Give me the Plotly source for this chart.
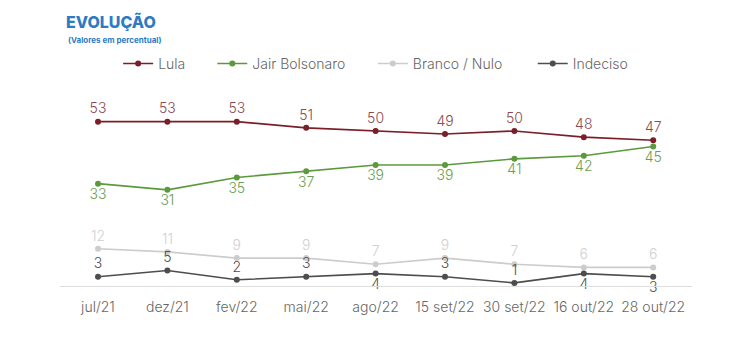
import plotly.graph_objects as go

categories = ["jul/21", "dez/21", "fev/22", "mai/22", "ago/22", "15 set/22", "30 set/22", "16 out/22", "28 out/22"]
lula = [53, 53, 53, 51, 50, 49, 50, 48, 47]
bolsonaro = [33, 31, 35, 37, 39, 39, 41, 42, 45]
branco = [12, 11, 9, 9, 7, 9, 7, 6, 6]
indeciso = [3, 5, 2, 3, 4, 3, 1, 4, 3]
indeciso_pos = ["top center", "top center", "top center", "top center", "bottom center",
                "top center", "top center", "bottom center", "bottom center"]

FONT = "Inter, Lato, sans-serif"
x = list(range(len(categories)))

# name, values, line colour, label colour, label position, legend id, legend x (paper)
series = [
    ("Lula", lula, "#7a1e2a", "#8a4a53", "top center", "legend", 0.092),
    ("Jair Bolsonaro", bolsonaro, "#5b9a3c", "#6a9e52", "bottom center", "legend2", 0.241),
    ("Branco / Nulo", branco, "#cccccc", "#d0d0d0", "top center", "legend3", 0.495),
    ("Indeciso", indeciso, "#4d4d4d", "#4d4d4d", indeciso_pos, "legend4", 0.748),
]

fig = go.Figure()
legends = {}
for name, vals, color, tcolor, pos, lg, lx in series:
    fig.add_trace(go.Scatter(
        x=x, y=vals, name=name, mode="lines+markers+text",
        line=dict(color=color, width=1.6),
        marker=dict(color=color, size=6),
        text=[str(v) for v in vals], textposition=pos,
        textfont=dict(family=FONT, size=14, color=tcolor, weight=300),
        cliponaxis=False, legend=lg,
    ))
    legends[lg] = dict(orientation="h", x=lx, y=1.133, xanchor="left", yanchor="middle",
                       font=dict(family=FONT, size=14, color="#666666", weight=300),
                       itemwidth=30, bgcolor="rgba(0,0,0,0)")

fig.update_layout(
    width=732, height=350,
    margin=dict(l=60, r=40, t=90, b=64),
    paper_bgcolor="white", plot_bgcolor="white",
    font=dict(family=FONT, color="#555555"),
    showlegend=True,
    **legends,
    xaxis=dict(range=[-0.5476, 8.559], tickvals=x, ticktext=categories,
               showgrid=False, zeroline=False, showline=True, linecolor="#dddddd", linewidth=1,
               ticks="outside", ticklen=8, tickcolor="rgba(0,0,0,0)",
               tickfont=dict(family=FONT, size=14, color="#666666", weight=300),
               fixedrange=True),
    yaxis=dict(range=[0, 63.2], visible=False, showgrid=False, zeroline=False, fixedrange=True),
    annotations=[
        dict(text="EVOLUÇÃO", xref="paper", yref="paper", x=0.0063, y=1.347,
             xanchor="left", yanchor="middle", showarrow=False,
             font=dict(family=FONT, size=16, color="#2e7bc4", weight=800)),
        dict(text="(Valores em percentual)", xref="paper", yref="paper", x=0.0095, y=1.255,
             xanchor="left", yanchor="middle", showarrow=False,
             font=dict(family=FONT, size=8, color="#2e7bc4", weight=700)),
    ],
)

fig.write_html("out.html")
